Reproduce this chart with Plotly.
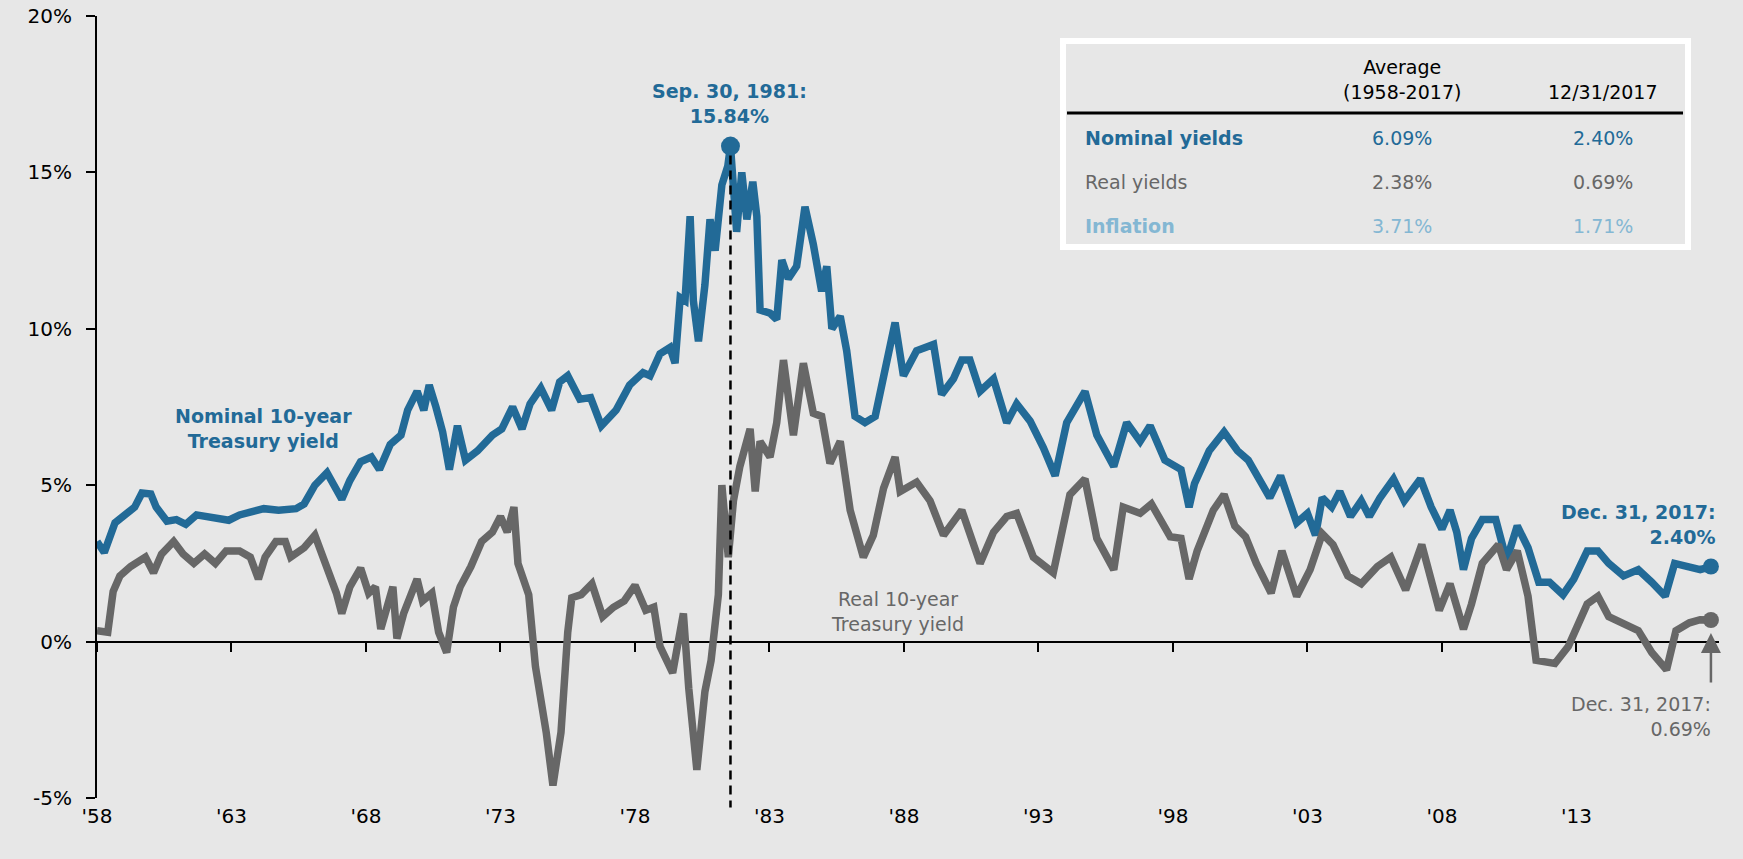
import plotly.graph_objects as go

# ---------------- data ----------------
years_nominal = [
    1958.0, 1958.27, 1958.67, 1959.07, 1959.4, 1959.67, 1960.0, 1960.2, 1960.6, 1960.95,
    1961.3, 1961.7, 1962.1, 1962.5, 1962.9, 1963.3, 1963.7, 1964.2, 1964.75, 1965.4,
    1965.7, 1966.1, 1966.55, 1966.9, 1967.1, 1967.4, 1967.8, 1968.2, 1968.5, 1968.9,
    1969.3, 1969.55, 1969.9, 1970.15, 1970.35, 1970.6, 1970.85, 1971.1, 1971.4, 1971.7,
    1972.15, 1972.7, 1973.05, 1973.45, 1973.8, 1974.1, 1974.5, 1974.9, 1975.2, 1975.5,
    1975.95, 1976.35, 1976.75, 1977.3, 1977.8, 1978.3, 1978.56, 1978.93, 1979.3, 1979.49,
    1979.68, 1979.86, 1980.05, 1980.17, 1980.36, 1980.6, 1980.79, 1980.98, 1981.23, 1981.45,
    1981.55, 1981.78, 1981.97, 1982.16, 1982.38, 1982.53, 1982.65, 1983.02, 1983.27, 1983.46,
    1983.7, 1984.01, 1984.32, 1984.63, 1984.94, 1985.13, 1985.32, 1985.63, 1985.87, 1986.18,
    1986.55, 1986.93, 1987.17, 1987.67, 1987.98, 1988.47, 1989.1, 1989.4, 1989.84, 1990.15,
    1990.45, 1990.83, 1991.33, 1991.82, 1992.19, 1992.69, 1993.18, 1993.62, 1994.05, 1994.73,
    1995.17, 1995.8, 1996.28, 1996.78, 1997.15, 1997.7, 1998.3, 1998.6, 1998.8, 1999.35,
    1999.9, 2000.4, 2000.8, 2001.2, 2001.6, 2002.0, 2002.6, 2003.0, 2003.3, 2003.55,
    2003.9, 2004.2, 2004.6, 2005.0, 2005.3, 2005.7, 2006.2, 2006.6, 2007.2, 2007.6,
    2008.0, 2008.3, 2008.55, 2008.8, 2009.1, 2009.5, 2010.0, 2010.4, 2010.8, 2011.2,
    2011.6, 2012.0, 2012.5, 2012.9, 2013.4, 2013.8, 2014.2, 2014.75, 2015.3, 2015.8,
    2016.3, 2016.65, 2017.2, 2017.6, 2018.0,
]
nominal = [
    3.2, 2.85, 3.8, 4.1, 4.3, 4.75, 4.72, 4.3, 3.85, 3.9,
    3.75, 4.05, 4.0, 3.95, 3.88, 4.05, 4.15, 4.25, 4.2, 4.25,
    4.4, 5.0, 5.4, 4.85, 4.55, 5.15, 5.75, 5.9, 5.5, 6.3,
    6.6, 7.4, 8.0, 7.4, 8.2, 7.5, 6.7, 5.5, 6.9, 5.8,
    6.1, 6.6, 6.8, 7.5, 6.8, 7.6, 8.1, 7.4, 8.3, 8.5,
    7.75, 7.8, 6.9, 7.4, 8.2, 8.6, 8.5, 9.2, 9.4, 8.9,
    11.0, 10.9, 13.6, 10.9, 9.6, 11.4, 13.5, 12.5, 14.6, 15.2,
    15.84, 13.1, 15.0, 13.5, 14.7, 13.6, 10.6, 10.5, 10.3, 12.2,
    11.6, 12.0, 13.9, 12.7, 11.2, 12.0, 10.0, 10.4, 9.3, 7.2,
    7.0, 7.2, 8.1, 10.2, 8.5, 9.3, 9.5, 7.9, 8.4, 9.0,
    9.0, 8.0, 8.4, 7.0, 7.6, 7.05, 6.2, 5.3, 7.0, 8.0,
    6.6, 5.6, 7.0, 6.4, 6.9, 5.8, 5.5, 4.3, 5.05, 6.1,
    6.7, 6.1, 5.8, 5.2, 4.6, 5.3, 3.8, 4.1, 3.4, 4.6,
    4.3, 4.8, 4.0, 4.5, 4.0, 4.6, 5.2, 4.5, 5.2, 4.3,
    3.6, 4.2, 3.5, 2.3, 3.3, 3.9, 3.9, 2.6, 3.7, 3.0,
    1.9, 1.9, 1.5, 2.0, 2.9, 2.9, 2.5, 2.1, 2.3, 1.9,
    1.45, 2.5, 2.4, 2.3, 2.40,
]

years_real = [
    1958.0, 1958.4, 1958.6, 1958.85, 1959.25, 1959.8, 1960.1, 1960.4, 1960.85, 1961.2,
    1961.6, 1962.0, 1962.4, 1962.8, 1963.3, 1963.7, 1964.0, 1964.25, 1964.65, 1965.0,
    1965.2, 1965.7, 1966.1, 1966.5, 1966.9, 1967.1, 1967.4, 1967.8, 1968.1, 1968.35,
    1968.55, 1969.0, 1969.15, 1969.4, 1969.9, 1970.1, 1970.45, 1970.7, 1971.0, 1971.25,
    1971.5, 1971.9, 1972.3, 1972.7, 1973.0, 1973.25, 1973.5, 1973.65, 1974.05, 1974.3,
    1974.7, 1974.95, 1975.25, 1975.5, 1975.65, 1976.0, 1976.4, 1976.8, 1977.2, 1977.6,
    1978.0, 1978.4, 1978.7, 1978.93, 1979.4, 1979.8, 1980.0, 1980.3, 1980.6, 1980.83,
    1981.1, 1981.23, 1981.47, 1981.66, 1981.9, 1982.28, 1982.47, 1982.65, 1983.02, 1983.27,
    1983.52, 1983.89, 1984.26, 1984.63, 1984.94, 1985.25, 1985.63, 1986.0, 1986.49, 1986.86,
    1987.24, 1987.67, 1987.86, 1988.47, 1988.97, 1989.47, 1990.15, 1990.83, 1991.33, 1991.82,
    1992.19, 1992.81, 1993.55, 1994.17, 1994.73, 1995.17, 1995.8, 1996.15, 1996.78, 1997.2,
    1997.9, 1998.3, 1998.6, 1998.9, 1999.5, 1999.9, 2000.3, 2000.7, 2001.1, 2001.65,
    2002.05, 2002.6, 2003.1, 2003.55, 2003.95, 2004.5, 2005.0, 2005.6, 2006.1, 2006.65,
    2007.25, 2007.9, 2008.3, 2008.8, 2009.1, 2009.5, 2010.1, 2010.4, 2010.8, 2011.2,
    2011.5, 2012.2, 2012.7, 2013.4, 2013.8, 2014.2, 2014.75, 2015.3, 2015.8, 2016.35,
    2016.7, 2017.2, 2017.6, 2018.0,
]
real = [
    0.35, 0.3, 1.6, 2.1, 2.4, 2.7, 2.2, 2.8, 3.2, 2.8,
    2.5, 2.8, 2.5, 2.9, 2.9, 2.7, 2.0, 2.7, 3.2, 3.2,
    2.7, 3.0, 3.4, 2.5, 1.55, 0.9, 1.75, 2.35, 1.55, 1.75,
    0.4, 1.75, 0.1, 0.9, 2.0, 1.3, 1.55, 0.3, -0.35, 1.1,
    1.75, 2.4, 3.2, 3.5, 4.0, 3.5, 4.3, 2.5, 1.5, -0.8,
    -2.9, -4.6, -2.9, 0.3, 1.4, 1.5, 1.85, 0.8, 1.1, 1.3,
    1.8, 1.0, 1.1, -0.15, -1.0, 0.9, -1.5, -4.1, -1.6, -0.6,
    1.5, 5.0, 2.7, 4.5, 5.6, 6.8, 4.8, 6.4, 5.9, 7.0,
    9.0, 6.6, 8.9, 7.3, 7.2, 5.7, 6.4, 4.2, 2.7, 3.4,
    4.9, 5.9, 4.8, 5.1, 4.5, 3.4, 4.2, 2.5, 3.5, 4.0,
    4.1, 2.7, 2.2, 4.7, 5.2, 3.3, 2.3, 4.3, 4.1, 4.4,
    3.35, 3.3, 2.0, 2.9, 4.2, 4.7, 3.7, 3.35, 2.5, 1.55,
    2.9, 1.45, 2.3, 3.45, 3.1, 2.1, 1.85, 2.4, 2.7, 1.65,
    3.1, 1.0, 1.85, 0.4, 1.2, 2.5, 3.1, 2.3, 2.9, 1.45,
    -0.6, -0.7, -0.15, 1.2, 1.45, 0.8, 0.6, 0.35, -0.35, -0.9,
    0.35, 0.6, 0.7, 0.69,
]

x_tick_years = [1958, 1963, 1968, 1973, 1978, 1983, 1988, 1993, 1998, 2003, 2008, 2013]
x_tick_labels = ["'58", "'63", "'68", "'73", "'78", "'83", "'88", "'93", "'98", "'03", "'08", "'13"]
y_tick_values = [-5, 0, 5, 10, 15, 20]
y_tick_labels = ["-5%", "0%", "5%", "10%", "15%", "20%"]

table_header = ["Average<br>(1958-2017)", "12/31/2017"]
table_rows = ["Nominal yields", "Real yields", "Inflation"]
table_avg = ["6.09%", "2.38%", "3.71%"]
table_latest = ["2.40%", "0.69%", "1.71%"]

peak_label = "Sep. 30, 1981:<br>15.84%"
nominal_end_label = "Dec. 31, 2017:<br>2.40%"
real_end_label = "Dec. 31, 2017:<br>0.69%"

# ---------------- styling ----------------
BG = "#e7e7e7"
BLUE = "#226a97"
GREY = "#676767"
LIGHT_BLUE = "#84b7d3"
FONT = "DejaVu Sans"

W_PX, H_PX = 1743, 859
L, R, T, B = 97, 24, 16, 61
PW, PH = W_PX - L - R, H_PX - T - B
X_RANGE = [1958, 2018.3]
Y_RANGE = [-5, 20]


def px(xp):
    return (xp - L) / PW


def py(yp):
    return 1 - (yp - T) / PH


def yfrac(v):
    return (v - Y_RANGE[0]) / (Y_RANGE[1] - Y_RANGE[0])


peak_i = max(range(len(nominal)), key=lambda i: nominal[i])
peak_year, peak_value = years_nominal[peak_i], nominal[peak_i]

fig = go.Figure()
fig.add_trace(go.Scatter(x=years_nominal, y=nominal, mode="lines",
                         line=dict(color=BLUE, width=7.5), hoverinfo="skip",
                         showlegend=False))
fig.add_trace(go.Scatter(x=[peak_year], y=[peak_value], mode="markers",
                         marker=dict(color=BLUE, size=19), cliponaxis=False,
                         showlegend=False))
fig.add_trace(go.Scatter(x=[years_nominal[-1]], y=[nominal[-1]], mode="markers",
                         marker=dict(color=BLUE, size=16), cliponaxis=False,
                         showlegend=False))
fig.add_trace(go.Scatter(x=years_real, y=real, mode="lines", xaxis="x2",
                         line=dict(color=GREY, width=7.5), hoverinfo="skip",
                         showlegend=False))
fig.add_trace(go.Scatter(x=[years_real[-1]], y=[real[-1]], mode="markers", xaxis="x2",
                         marker=dict(color=GREY, size=16), cliponaxis=False,
                         showlegend=False))

tickfont = dict(family=FONT, size=20, color="black")

fig.update_layout(
    width=W_PX, height=H_PX,
    margin=dict(l=L, r=R, t=T, b=B, pad=0, autoexpand=False),
    paper_bgcolor=BG, plot_bgcolor=BG,
    xaxis=dict(range=X_RANGE, tickvals=x_tick_years, ticktext=x_tick_labels,
               showline=False, showgrid=False, zeroline=False, automargin=False,
               ticks="outside", ticklen=0, tickfont=tickfont,
               ticklabelstandoff=0),
    xaxis2=dict(range=X_RANGE, overlaying="x", anchor="free",
                position=yfrac(0), side="bottom", automargin=False,
                tickvals=x_tick_years, showticklabels=False,
                showline=True, linecolor="black", linewidth=2,
                ticks="outside", ticklen=9, tickwidth=2, tickcolor="black",
                showgrid=False, zeroline=False, layer="below traces"),
    yaxis=dict(range=Y_RANGE, tickvals=y_tick_values, ticktext=y_tick_labels,
               showline=True, linecolor="black", linewidth=2, automargin=False,
               ticks="outside", ticklen=9, tickwidth=2, tickcolor="black",
               showgrid=False, zeroline=False, tickfont=tickfont,
               ticklabelstandoff=10),
)

# dashed vertical line from the peak down below the axis
fig.add_shape(type="line", xref="x", yref="paper",
              x0=peak_year, x1=peak_year,
              y0=yfrac(peak_value) - 0.012, y1=-0.012,
              line=dict(color="black", width=2.5, dash="9px,6px"))

ann = []
ann.append(dict(text="<b>" + peak_label + "</b>", x=peak_year - 0.05, y=17.2,
                xref="x", yref="y", showarrow=False,
                font=dict(family=FONT, size=19, color=BLUE),
                align="center", xanchor="center", yanchor="middle"))
ann.append(dict(text="<b>Nominal 10-year<br>Treasury yield</b>", x=1964.2, y=6.8,
                xref="x", yref="y", showarrow=False,
                font=dict(family=FONT, size=19, color=BLUE), align="center"))
ann.append(dict(text="Real 10-year<br>Treasury yield", x=1987.75, y=0.96,
                xref="x", yref="y", showarrow=False,
                font=dict(family=FONT, size=19, color=GREY), align="center"))
ann.append(dict(text="<b>" + nominal_end_label + "</b>", x=2018.26, y=3.74,
                xref="x", yref="y", showarrow=False,
                font=dict(family=FONT, size=19, color=BLUE),
                align="right", xanchor="right", yanchor="middle"))
ann.append(dict(text=real_end_label, x=2018.07, y=-2.4,
                xref="x", yref="y", showarrow=False,
                font=dict(family=FONT, size=19, color=GREY),
                align="right", xanchor="right", yanchor="middle"))
# arrow pointing up to the real yield end point
ann.append(dict(text="", x=years_real[-1], y=real[-1], xref="x", yref="y",
                showarrow=True, ax=0, ay=64, axref="pixel", ayref="pixel",
                arrowhead=2, arrowsize=1.6, arrowwidth=2.5, arrowcolor=GREY,
                standoff=13))

# ---------------- summary table ----------------
fig.add_shape(type="rect", xref="paper", yref="paper",
              x0=px(1063), x1=px(1688), y0=py(247), y1=py(41),
              line=dict(color="white", width=6), fillcolor=BG, layer="above")
fig.add_shape(type="line", xref="paper", yref="paper",
              x0=px(1067), x1=px(1683), y0=py(113), y1=py(113),
              line=dict(color="black", width=3))

col_x = [px(1402), px(1603)]
ann.append(dict(text=table_header[0], x=col_x[0], y=py(80), xref="paper", yref="paper",
                showarrow=False, font=dict(family=FONT, size=19, color="black"),
                align="center", xanchor="center", yanchor="middle"))
ann.append(dict(text=table_header[1], x=col_x[1], y=py(92), xref="paper", yref="paper",
                showarrow=False, font=dict(family=FONT, size=19, color="black"),
                align="center", xanchor="center", yanchor="middle"))

row_y = [py(138), py(182), py(226)]
row_colors = [BLUE, GREY, LIGHT_BLUE]
row_bold = [True, False, True]
for name, avg, last, yy, col, bold in zip(table_rows, table_avg, table_latest,
                                          row_y, row_colors, row_bold):
    label = "<b>" + name + "</b>" if bold else name
    ann.append(dict(text=label, x=px(1083), y=yy, xref="paper", yref="paper",
                    showarrow=False, font=dict(family=FONT, size=19, color=col),
                    xanchor="left", yanchor="middle"))
    for cx, val in zip(col_x, [avg, last]):
        ann.append(dict(text=val, x=cx, y=yy, xref="paper", yref="paper",
                        showarrow=False, font=dict(family=FONT, size=19, color=col),
                        xanchor="center", yanchor="middle"))

fig.update_layout(annotations=ann)
fig.write_html("out.html")
